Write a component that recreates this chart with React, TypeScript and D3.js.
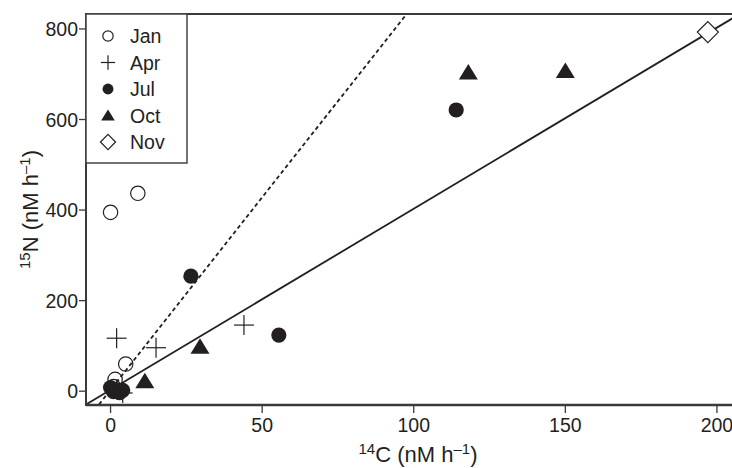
import React from "react";
import * as d3 from "d3";

type Pt = [number, number];

const janData: Pt[] = [[0, 395], [9, 437], [5, 60], [1.5, 26], [1, 10]];
const aprData: Pt[] = [[2, 117], [15, 96], [44, 146], [2, 4], [4, -4]];
const julData: Pt[] = [[26.5, 254], [55.5, 124], [114, 621], [0, 8], [2, 3], [3, -3], [4, 2], [1, -1]];
const octData: Pt[] = [[11.3, 22], [29.5, 98], [118, 704], [150, 707]];
const novData: Pt[] = [[197, 793]];

const xTicks = [0, 50, 100, 150, 200];
const yTicks = [0, 200, 400, 600, 800];

const solidFit = { slope: 4.0, intercept: 3 };
const dashedFit = { slope: 8.5, intercept: 3 };

const legendItems = [
  { label: "Jan", kind: "openCircle" },
  { label: "Apr", kind: "plus" },
  { label: "Jul", kind: "filledCircle" },
  { label: "Oct", kind: "triangle" },
  { label: "Nov", kind: "diamond" },
];

const INK = "#231f20";
const FONT = "'Liberation Sans', Arial, Helvetica, sans-serif";

function Marker({ kind, cx, cy, s = 1 }: { kind: string; cx: number; cy: number; s?: number }) {
  switch (kind) {
    case "openCircle":
      return <circle cx={cx} cy={cy} r={7.2 * s} fill="white" fillOpacity={0} stroke={INK} strokeWidth={1.2} />;
    case "filledCircle":
      return <circle cx={cx} cy={cy} r={7.6 * s} fill={INK} />;
    case "plus": {
      const h = 10 * s;
      return (
        <g stroke={INK} strokeWidth={1.2}>
          <line x1={cx - h} x2={cx + h} y1={cy} y2={cy} />
          <line x1={cx} x2={cx} y1={cy - h} y2={cy + h} />
        </g>
      );
    }
    case "triangle": {
      const w = 9.5 * s;
      const p = `${cx},${cy - 8.5 * s} ${cx + w},${cy + 7 * s} ${cx - w},${cy + 7 * s}`;
      return <polygon points={p} fill={INK} />;
    }
    case "diamond": {
      const h = 10.5 * s;
      const p = `${cx},${cy - h} ${cx + h},${cy} ${cx},${cy + h} ${cx - h},${cy}`;
      return <polygon points={p} fill="white" stroke={INK} strokeWidth={1.2} />;
    }
  }
  return null;
}

export default function App() {
  const W = 732;
  const H = 468;
  const left = 86, right = 733, top = 14, bottom = 405;
  const x = d3.scaleLinear().domain([-8.1, 205.3]).range([left, right]);
  const y = d3.scaleLinear().domain([-30.5, 833]).range([bottom, top]);

  const [xd0, xd1] = x.domain();
  const lineGen = d3.line<Pt>().x((d) => x(d[0])).y((d) => y(d[1]));
  const fitPts = (f: { slope: number; intercept: number }): Pt[] =>
    [xd0, xd1].map((v) => [v, f.slope * v + f.intercept] as Pt);

  const series = [
    { kind: "openCircle", data: janData },
    { kind: "plus", data: aprData },
    { kind: "filledCircle", data: julData },
    { kind: "triangle", data: octData },
    { kind: "diamond", data: novData },
  ];

  const legY0 = 36, legStep = 26.5;
  const tickFs = 19.5;

  return (
    <svg width={W} height={H} style={{ position: "absolute", left: 0, top: 0, background: "white" }} fontFamily={FONT}>
      <defs>
        <clipPath id="plotClip">
          <rect x={left} y={top} width={right - left} height={bottom - top} />
        </clipPath>
      </defs>
      <rect x={0} y={0} width={W} height={H} fill="white" />

      <g clipPath="url(#plotClip)">
        <path d={lineGen(fitPts(dashedFit)) || ""} fill="none" stroke={INK} strokeWidth={1.8} strokeDasharray="4,3" />
        <path d={lineGen(fitPts(solidFit)) || ""} fill="none" stroke={INK} strokeWidth={1.8} />
        {series.map((s) =>
          s.data.map((d, i) => <Marker key={s.kind + i} kind={s.kind} cx={x(d[0])} cy={y(d[1])} />)
        )}
      </g>

      {/* frame */}
      <g stroke="#3a3a3a" strokeWidth={2} fill="none">
        <line x1={left} x2={right} y1={top} y2={top} />
        <line x1={left} x2={left} y1={top - 1} y2={bottom + 1} />
        <line x1={left} x2={right} y1={bottom} y2={bottom} strokeWidth={2.4} />
      </g>

      {/* x axis ticks */}
      {xTicks.map((t) => (
        <g key={"x" + t}>
          <line x1={x(t)} x2={x(t)} y1={bottom} y2={bottom + 8} stroke="#3a3a3a" strokeWidth={1.3} />
          <text x={x(t)} y={bottom + 27} textAnchor="middle" fontSize={tickFs} fill={INK}>{t}</text>
        </g>
      ))}

      {/* y axis ticks */}
      {yTicks.map((t) => (
        <g key={"y" + t}>
          <line x1={left - 7} x2={left} y1={y(t)} y2={y(t)} stroke="#3a3a3a" strokeWidth={1.3} />
          <text x={left - 8} y={y(t) + 7} textAnchor="end" fontSize={tickFs} fill={INK}>{t}</text>
        </g>
      ))}

      {/* axis titles */}
      <text x={418} y={462} textAnchor="middle" fontSize={22} fill={INK}>
        <tspan fontSize={15} dy={-8}>14</tspan>
        <tspan dy={8}>C (nM h</tspan>
        <tspan fontSize={15} dy={-8}>–1</tspan>
        <tspan dy={8}>)</tspan>
      </text>
      <text transform={`translate(38, ${(top + bottom) / 2}) rotate(-90)`} textAnchor="middle" fontSize={22} fill={INK}>
        <tspan fontSize={15} dy={-8}>15</tspan>
        <tspan dy={8}>N (nM h</tspan>
        <tspan fontSize={15} dy={-8}>–1</tspan>
        <tspan dy={8}>)</tspan>
      </text>

      {/* legend */}
      <rect x={left} y={top} width={101} height={149} fill="white" stroke="#444" strokeWidth={1.5} />
      {legendItems.map((it, i) => (
        <g key={it.label}>
          <Marker kind={it.kind} cx={108} cy={legY0 + i * legStep} s={0.72} />
          <text x={130} y={legY0 + i * legStep + 7} fontSize={19.5} fill={INK}>{it.label}</text>
        </g>
      ))}
    </svg>
  );
}
